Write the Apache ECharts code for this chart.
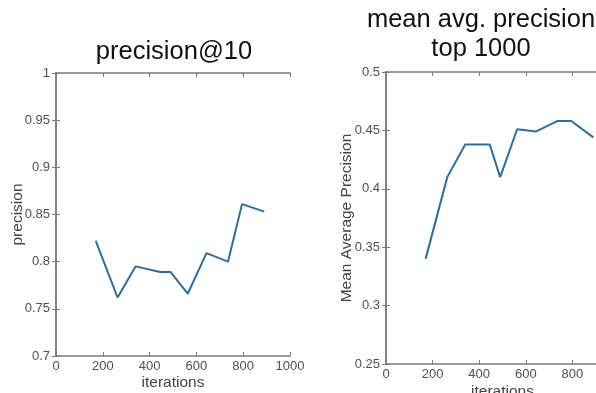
<!DOCTYPE html>
<html>
<head>
<meta charset="utf-8">
<script src="https://cdn.jsdelivr.net/npm/echarts@6/dist/echarts.min.js"></script>
<style>
  html, body { margin: 0; padding: 0; background: #fff; }
  #chart { width: 596px; height: 393px; }
</style>
</head>
<body>
<div id="chart"></div>
<script>
// iterations shared by both plots
const iterations = [170, 263, 340, 445, 490, 563, 643, 735, 795, 890];
const precisionAt10 = [0.822, 0.762, 0.795, 0.789, 0.789, 0.766, 0.809, 0.800, 0.861, 0.853];
const meanAvgPrecision = [0.340, 0.410, 0.438, 0.438, 0.410, 0.451, 0.449, 0.458, 0.458, 0.444];

const leftTitle = 'precision@10';
const rightTitle = 'mean avg. precision\ntop 1000';

const font = 'Liberation Sans, Arial, Helvetica, sans-serif';
const axisColor = '#7a7a7a';
const labelColor = '#505050';
const lineColor = '#2f6e9c';

const pair = (xs, ys) => xs.map((x, i) => [x, ys[i]]);

const tickStyle = { show: true, inside: true, length: 4, lineStyle: { color: axisColor } };
const lineStyle = { show: true, lineStyle: { color: axisColor, width: 1.5 } };

const xAxisBase = (grid, pos) => ({
  type: 'value', gridIndex: grid, position: pos,
  min: 0, max: 1000, interval: 200,
  axisLine: lineStyle, axisTick: tickStyle, splitLine: { show: false },
});
const yAxisBase = (grid, pos, min, max, interval) => ({
  type: 'value', gridIndex: grid, position: pos,
  min, max, interval,
  axisLine: lineStyle, axisTick: tickStyle, splitLine: { show: false },
});

const labelStyle = { color: labelColor, fontSize: 13, fontFamily: font };
const nameStyle = { color: '#444', fontSize: 15.5, fontFamily: font };
const titleStyle = { fontSize: 25.5, fontWeight: 'normal', color: '#111', fontFamily: font, lineHeight: 29 };
const numFmt = v => String(parseFloat(v.toFixed(2)));

const chart = echarts.init(document.getElementById('chart'));
chart.setOption({
  backgroundColor: '#fff',
  animation: false,
  title: [
    { text: leftTitle, left: 169, top: 32, textAlign: 'center', textStyle: titleStyle },
    { text: rightTitle, left: 476, top: 0, textAlign: 'center', textStyle: titleStyle },
  ],
  grid: [
    { left: 56, top: 73, width: 234, height: 283, outerBoundsMode: 'none', containLabel: false },
    { left: 386, top: 72, width: 233, height: 292, outerBoundsMode: 'none', containLabel: false },
  ],
  xAxis: [
    Object.assign(xAxisBase(0, 'bottom'), {
      name: 'iterations', nameLocation: 'middle', nameGap: 19, nameMoveOverlap: false, nameTextStyle: nameStyle,
      axisLabel: Object.assign({ margin: 4, formatter: numFmt }, labelStyle),
    }),
    Object.assign(xAxisBase(0, 'top'), { axisLabel: { show: false } }),
    Object.assign(xAxisBase(1, 'bottom'), {
      name: 'iterations', nameLocation: 'middle', nameGap: 20, nameMoveOverlap: false, nameTextStyle: nameStyle,
      axisLabel: Object.assign({ margin: 4, formatter: numFmt }, labelStyle),
    }),
    Object.assign(xAxisBase(1, 'top'), { axisLabel: { show: false } }),
  ],
  yAxis: [
    Object.assign(yAxisBase(0, 'left', 0.7, 1, 0.05), {
      name: 'precision', nameLocation: 'middle', nameGap: 30, nameMoveOverlap: false, nameTextStyle: nameStyle,
      axisLabel: Object.assign({ margin: 6, formatter: numFmt }, labelStyle),
    }),
    Object.assign(yAxisBase(0, 'right', 0.7, 1, 0.05), { axisLabel: { show: false } }),
    Object.assign(yAxisBase(1, 'left', 0.25, 0.5, 0.05), {
      name: 'Mean Average Precision', nameLocation: 'middle', nameGap: 31, nameMoveOverlap: false, nameTextStyle: nameStyle,
      axisLabel: Object.assign({ margin: 6, formatter: numFmt }, labelStyle),
    }),
    Object.assign(yAxisBase(1, 'right', 0.25, 0.5, 0.05), { axisLabel: { show: false } }),
  ],
  series: [
    { type: 'line', xAxisIndex: 0, yAxisIndex: 0, data: pair(iterations, precisionAt10),
      showSymbol: false, lineStyle: { color: lineColor, width: 2 } },
    { type: 'line', xAxisIndex: 2, yAxisIndex: 2, data: pair(iterations, meanAvgPrecision),
      showSymbol: false, lineStyle: { color: lineColor, width: 2 } },
  ],
});
</script>
</body>
</html>
